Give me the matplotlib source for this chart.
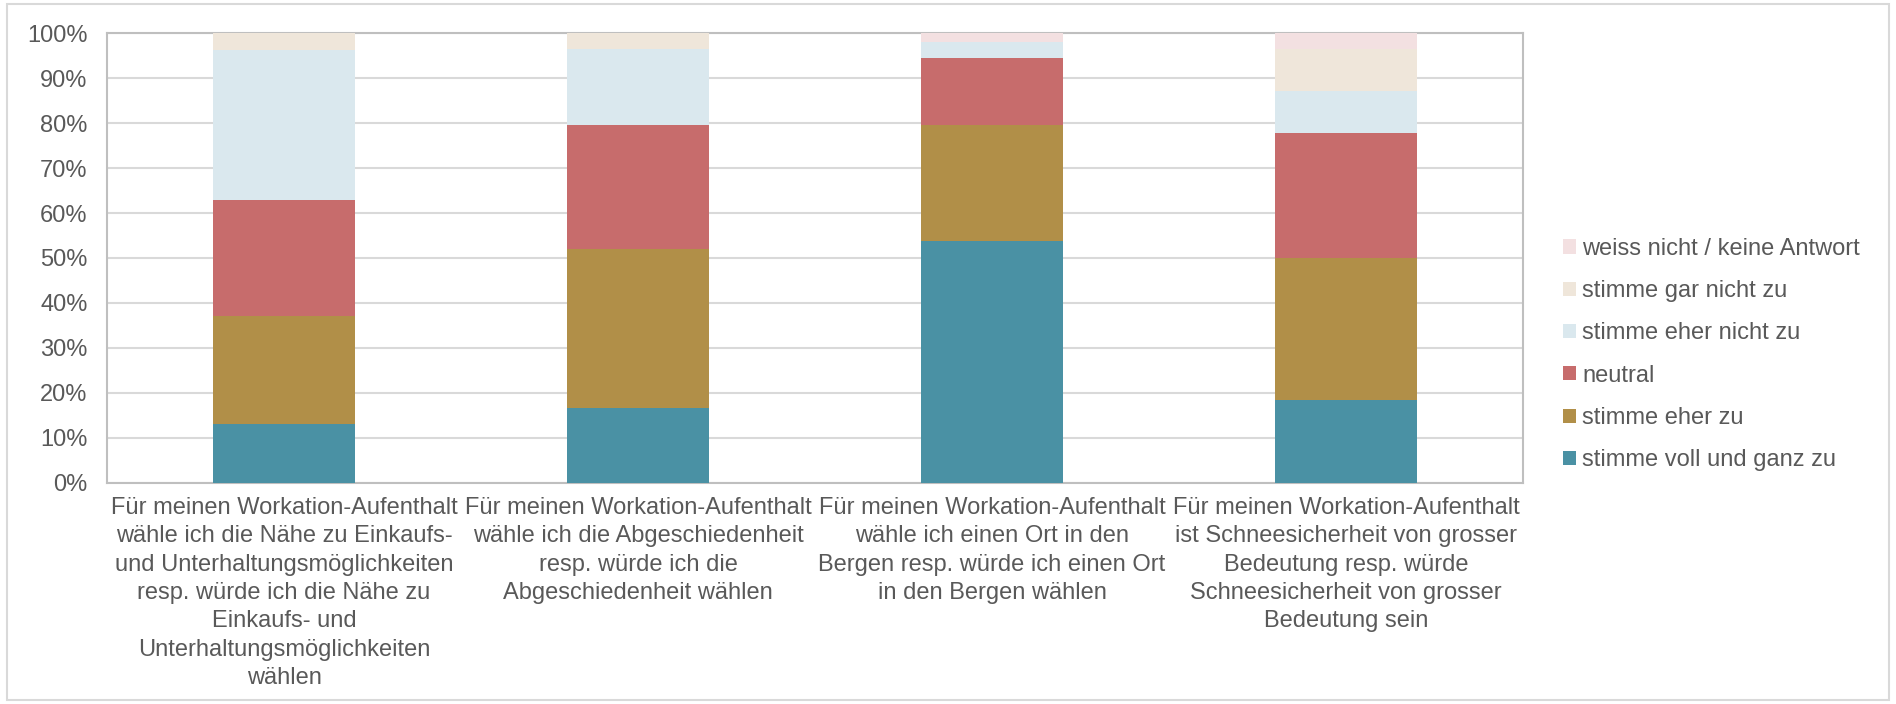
import numpy as np
import matplotlib.pyplot as plt
from matplotlib.patches import Rectangle

# categories (x axis) - wrapped as in the original chart
categories = [
    "Für meinen Workation-Aufenthalt\nwähle ich die Nähe zu Einkaufs-\nund Unterhaltungsmöglichkeiten\nresp. würde ich die Nähe zu\nEinkaufs- und\nUnterhaltungsmöglichkeiten\nwählen",
    "Für meinen Workation-Aufenthalt\nwähle ich die Abgeschiedenheit\nresp. würde ich die\nAbgeschiedenheit wählen",
    "Für meinen Workation-Aufenthalt\nwähle ich einen Ort in den\nBergen resp. würde ich einen Ort\nin den Bergen wählen",
    "Für meinen Workation-Aufenthalt\nist Schneesicherheit von grosser\nBedeutung resp. würde\nSchneesicherheit von grosser\nBedeutung sein",
]

# answer shares in percent, bottom to top
voll_und_ganz = [13.0, 16.7, 53.7, 18.5]
eher_zu = [24.1, 35.2, 25.9, 31.5]
neutral = [25.9, 27.8, 14.8, 27.8]
eher_nicht = [33.3, 16.7, 3.7, 9.3]
gar_nicht = [3.7, 3.7, 0.0, 9.3]
weiss_nicht = [0.0, 0.0, 1.9, 3.7]

series_names = [
    "stimme voll und ganz zu",
    "stimme eher zu",
    "neutral",
    "stimme eher nicht zu",
    "stimme gar nicht zu",
    "weiss nicht / keine Antwort",
]
colors = ["#4A91A4", "#B18F48", "#C76C6C", "#DAE8EE", "#EFE6DA", "#F3E0E1"]
series = [voll_und_ganz, eher_zu, neutral, eher_nicht, gar_nicht, weiss_nicht]

plt.rcParams['font.family'] = ['Liberation Sans', 'DejaVu Sans']
text_color = "#595959"

fig = plt.figure(figsize=(18.96, 7.04), dpi=100)
ax = fig.add_axes([0.05643, 0.31435, 0.74684, 0.63835])

# outer chart frame
fig.patches.append(Rectangle((0.0037, 0.005), 0.9926, 0.989, transform=fig.transFigure,
                             fill=False, edgecolor="#D9D9D9", linewidth=1.5))

x = np.arange(len(categories))
bottom = np.zeros(len(categories))
handles = []
for name, vals, col in zip(series_names, series, colors):
    vals = np.array(vals)
    b = ax.bar(x, vals, 0.4, bottom=bottom, color=col, label=name, zorder=3)
    handles.append(b)
    bottom += vals

ax.set_xlim(-0.5, 3.5)
ax.set_ylim(0, 100)
ax.set_yticks(np.arange(0, 101, 10))
ax.set_yticklabels([f"{v}%" for v in range(0, 101, 10)])
ax.set_xticks(x)
ax.set_xticklabels(categories, linespacing=1.38)
ax.tick_params(axis='both', length=0, labelsize=17, colors=text_color)
ax.tick_params(axis='y', pad=14)
ax.tick_params(axis='x', pad=10)
ax.yaxis.grid(True, color="#D9D9D9", linewidth=1.5, zorder=0)
for s in ax.spines.values():
    s.set_color("#BFBFBF")
    s.set_linewidth(1.5)

leg = fig.legend(handles[::-1], series_names[::-1], loc='center left',
                 bbox_to_anchor=(0.8244, 0.4964), frameon=False, fontsize=17,
                 handlelength=0.55, handleheight=0.55, handletextpad=0.25,
                 labelspacing=0.86, borderpad=0, borderaxespad=0)
for t in leg.get_texts():
    t.set_color(text_color)

fig.savefig("out.png", dpi=100)
